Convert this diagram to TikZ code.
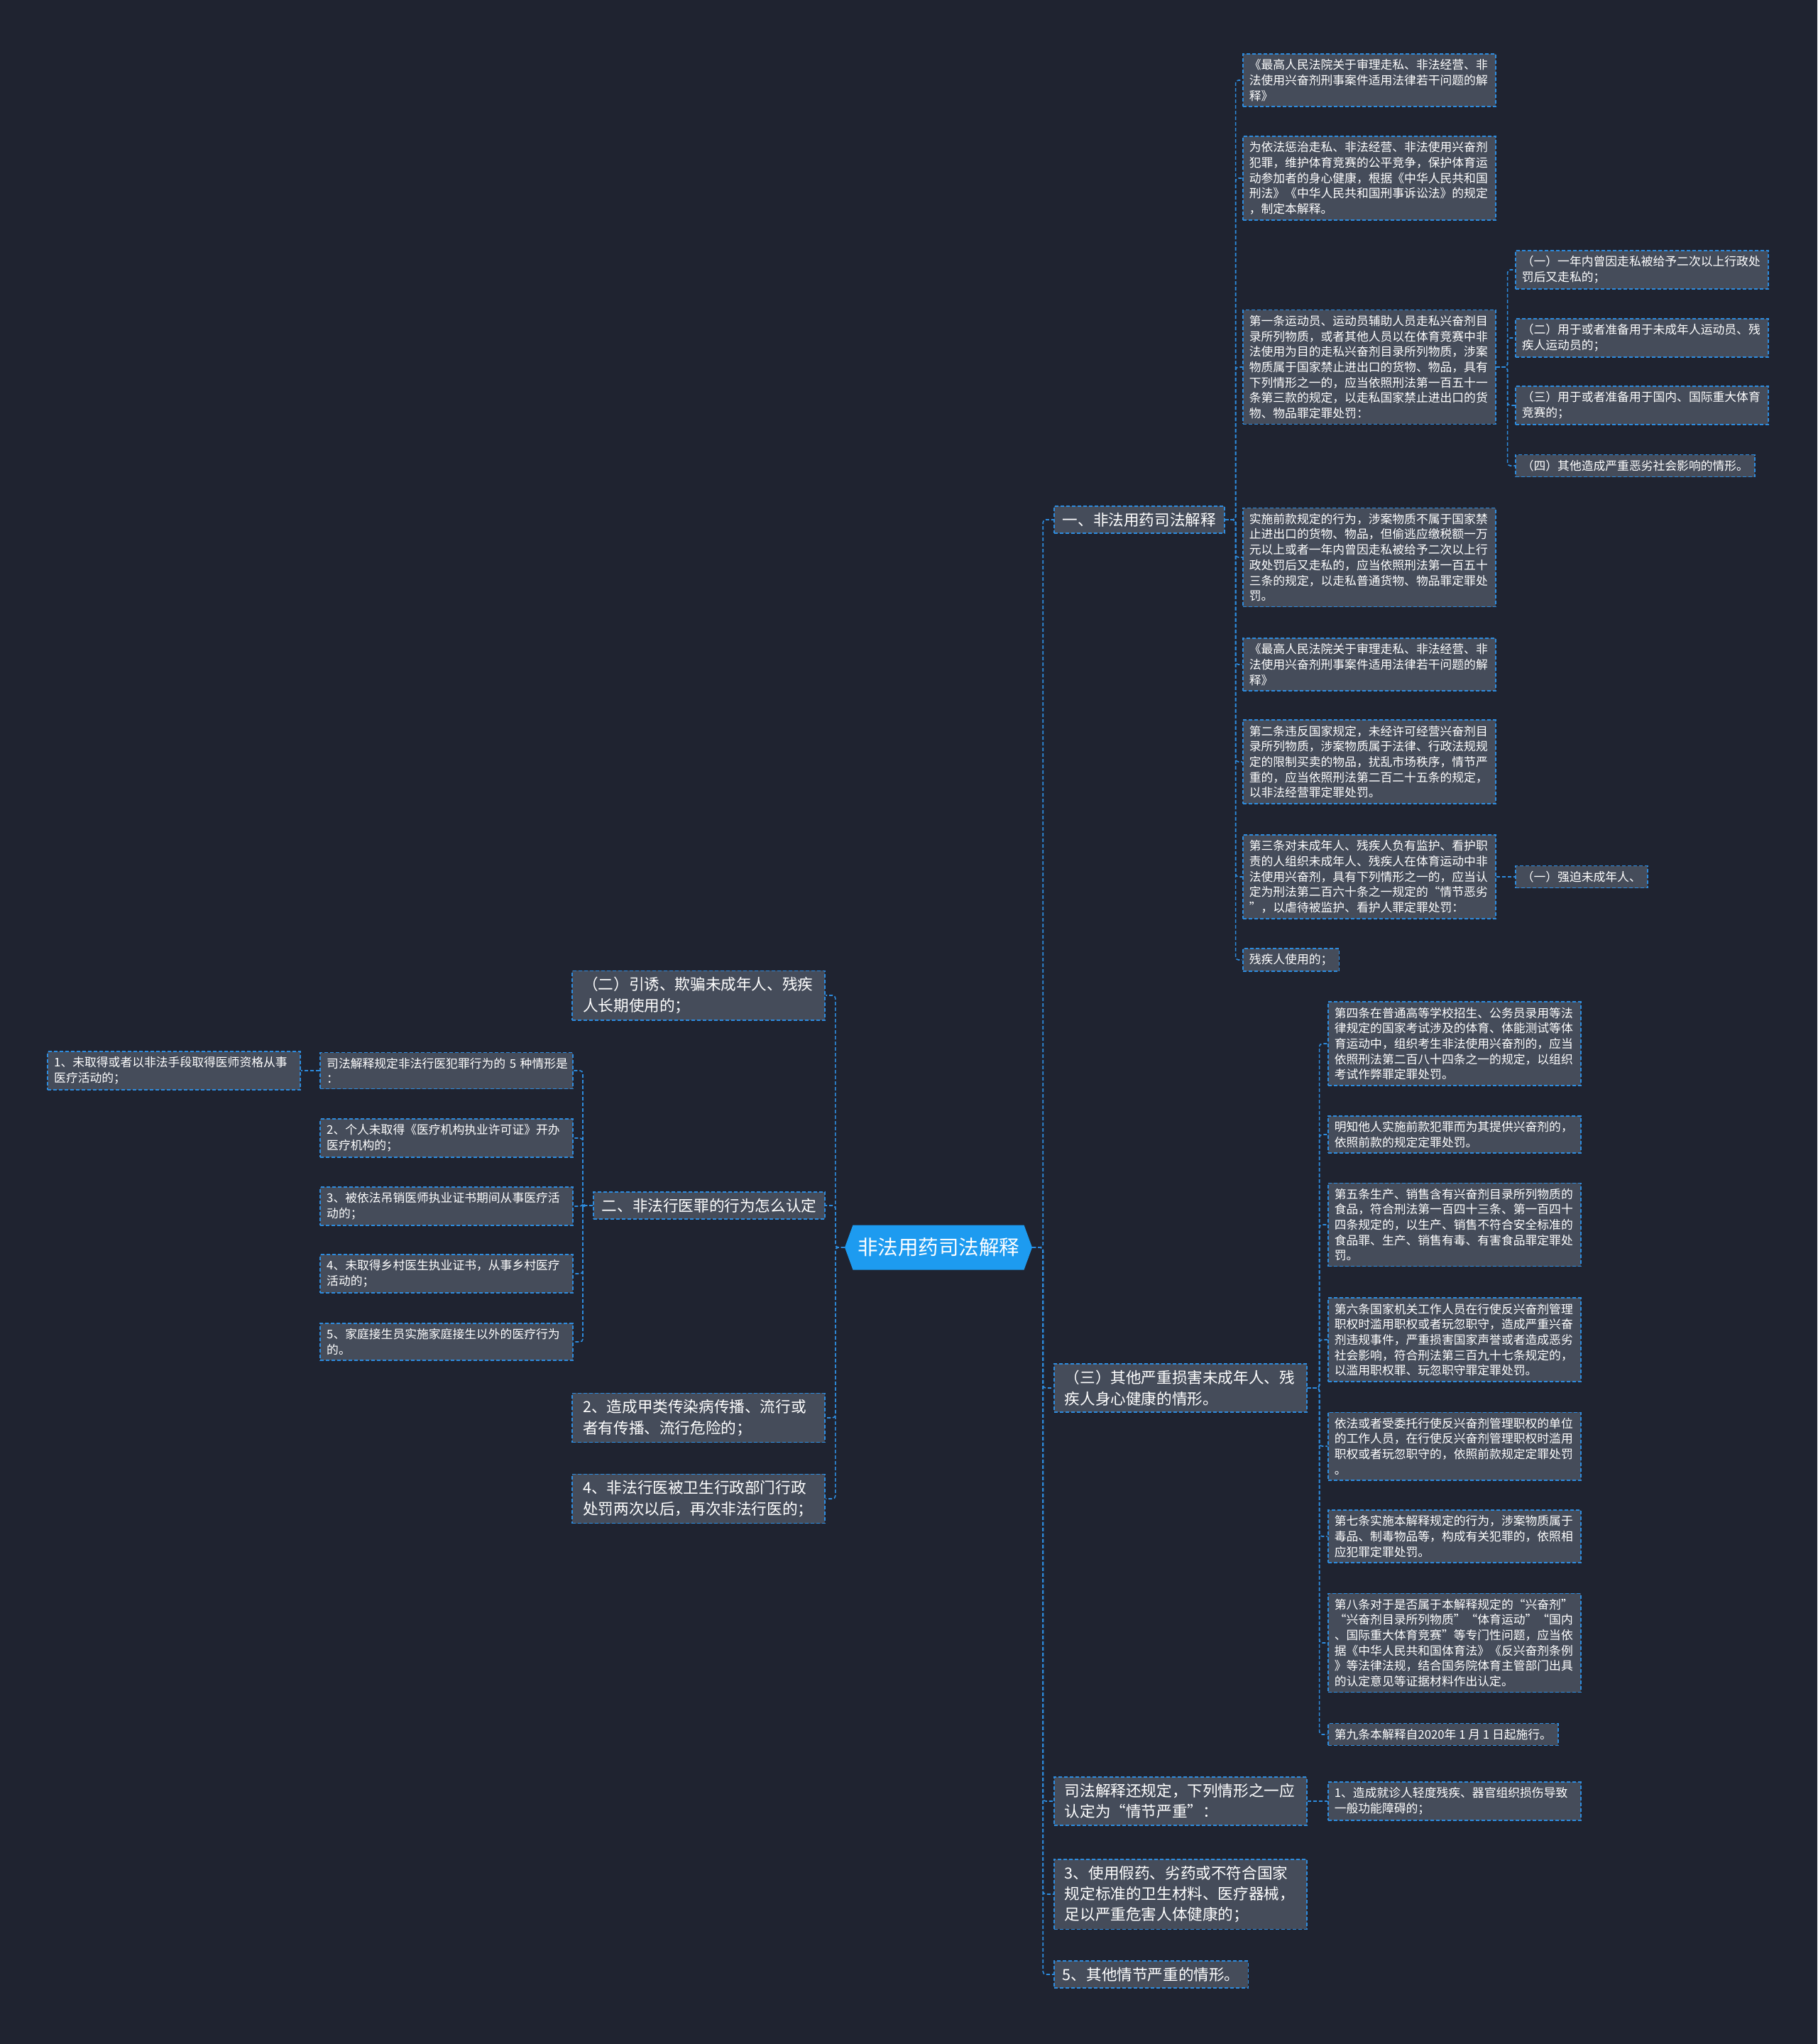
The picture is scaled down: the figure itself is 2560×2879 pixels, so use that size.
\documentclass[tikz,border=0pt]{standalone}
\usepackage{fontspec}
\usepackage{xcolor}
\usepackage{tikz}
\usetikzlibrary{shapes.symbols,positioning}

\newfontfamily\cjk{Noto Sans CJK SC}
\definecolor{bgdark}{HTML}{1F2330}
\definecolor{boxgrey}{HTML}{454C5A}
\definecolor{linkblue}{HTML}{2D8CDF}
\definecolor{rootblue}{HTML}{1D9BF0}

\begin{document}
\begin{tikzpicture}[
  x=1pt, y=-1pt,
  leafbase/.style={draw=linkblue, line width=1.6pt, dash pattern=on 5pt off 3pt, fill=boxgrey, text=white, font=\cjk\fontsize{16.8}{21.7}\selectfont, align=left, inner xsep=9pt, inner ysep=7.5pt},
  leaf/.style={leafbase, text width=338pt},
  branchbase/.style={draw=linkblue, line width=1.6pt, dash pattern=on 5pt off 3pt, fill=boxgrey, text=white, font=\cjk\fontsize{21.6}{29.4}\selectfont, align=left, inner xsep=12pt, inner ysep=9pt},
  branch/.style={branchbase, text width=326pt, inner xsep=15pt},
  rootbox/.style={signal, signal to=west and east, signal pointer angle=140, fill=rootblue, text=white, font=\cjk\fontsize{28.5}{32}\selectfont, minimum width=264pt, minimum height=63pt, inner xsep=4pt},
  link/.style={draw=linkblue, line width=1.6pt, dash pattern=on 5pt off 3pt, rounded corners=4pt},
]
  % Background and page frame
  \fill[bgdark] (0,0) rectangle (2560,2879);
  \useasboundingbox (0,0) rectangle (2560,2879);

  % Centre
  \node[rootbox] (root) at (1322,1757) {非法用药司法解释};

  % Right branches
  \node[branchbase, anchor=west] (sec1) at (1484,732) {一、非法用药司法解释};
  \node[branch, anchor=west] (sec3) at (1484,1955) {（三）其他严重损害未成年人、残\\疾人身心健康的情形。};
  \node[branch, anchor=west] (serious) at (1484,2537) {司法解释还规定，下列情形之一应\\认定为“情节严重”：};
  \node[branch, anchor=west] (fakedrug) at (1484,2668) {3、使用假药、劣药或不符合国家\\规定标准的卫生材料、医疗器械，\\足以严重危害人体健康的；};
  \node[branchbase, anchor=west] (other) at (1484,2781) {5、其他情节严重的情形。};

  % Children of sec1
  \node[leaf, anchor=west] (title1) at (1750,113) {《最高人民法院关于审理走私、非法经营、非\\法使用兴奋剂刑事案件适用法律若干问题的解\\释》};
  \node[leaf, anchor=west] (purpose) at (1750,251) {为依法惩治走私、非法经营、非法使用兴奋剂\\犯罪，维护体育竞赛的公平竞争，保护体育运\\动参加者的身心健康，根据《中华人民共和国\\刑法》《中华人民共和国刑事诉讼法》的规定\\，制定本解释。};
  \node[leaf, anchor=west] (art1) at (1750,517) {第一条运动员、运动员辅助人员走私兴奋剂目\\录所列物质，或者其他人员以在体育竞赛中非\\法使用为目的走私兴奋剂目录所列物质，涉案\\物质属于国家禁止进出口的货物、物品，具有\\下列情形之一的，应当依照刑法第一百五十一\\条第三款的规定，以走私国家禁止进出口的货\\物、物品罪定罪处罚：};
  \node[leaf, anchor=west] (art1b) at (1750,785) {实施前款规定的行为，涉案物质不属于国家禁\\止进出口的货物、物品，但偷逃应缴税额一万\\元以上或者一年内曾因走私被给予二次以上行\\政处罚后又走私的，应当依照刑法第一百五十\\三条的规定，以走私普通货物、物品罪定罪处\\罚。};
  \node[leaf, anchor=west] (title2) at (1750,936) {《最高人民法院关于审理走私、非法经营、非\\法使用兴奋剂刑事案件适用法律若干问题的解\\释》};
  \node[leaf, anchor=west] (art2) at (1750,1073) {第二条违反国家规定，未经许可经营兴奋剂目\\录所列物质，涉案物质属于法律、行政法规规\\定的限制买卖的物品，扰乱市场秩序，情节严\\重的，应当依照刑法第二百二十五条的规定，\\以非法经营罪定罪处罚。};
  \node[leaf, anchor=west] (art3) at (1750,1235) {第三条对未成年人、残疾人负有监护、看护职\\责的人组织未成年人、残疾人在体育运动中非\\法使用兴奋剂，具有下列情形之一的，应当认\\定为刑法第二百六十条之一规定的“情节恶劣\\”，以虐待被监护、看护人罪定罪处罚：};
  \node[leafbase, anchor=west] (disabled) at (1750,1352) {残疾人使用的；};

  % Cases of art1 and art3
  \node[leaf, anchor=west] (case1) at (2134,380) {（一）一年内曾因走私被给予二次以上行政处\\罚后又走私的；};
  \node[leaf, anchor=west] (case2) at (2134,476) {（二）用于或者准备用于未成年人运动员、残\\疾人运动员的；};
  \node[leaf, anchor=west] (case3) at (2134,571) {（三）用于或者准备用于国内、国际重大体育\\竞赛的；};
  \node[leafbase, anchor=west] (case4) at (2134,656) {（四）其他造成严重恶劣社会影响的情形。};
  \node[leafbase, anchor=west] (force) at (2134,1235) {（一）强迫未成年人、};

  % Children of sec3
  \node[leaf, anchor=west] (art4) at (1870,1470) {第四条在普通高等学校招生、公务员录用等法\\律规定的国家考试涉及的体育、体能测试等体\\育运动中，组织考生非法使用兴奋剂的，应当\\依照刑法第二百八十四条之一的规定，以组织\\考试作弊罪定罪处罚。};
  \node[leaf, anchor=west] (art4b) at (1870,1598) {明知他人实施前款犯罪而为其提供兴奋剂的，\\依照前款的规定定罪处罚。};
  \node[leaf, anchor=west] (art5) at (1870,1725) {第五条生产、销售含有兴奋剂目录所列物质的\\食品，符合刑法第一百四十三条、第一百四十\\四条规定的，以生产、销售不符合安全标准的\\食品罪、生产、销售有毒、有害食品罪定罪处\\罚。};
  \node[leaf, anchor=west] (art6) at (1870,1887) {第六条国家机关工作人员在行使反兴奋剂管理\\职权时滥用职权或者玩忽职守，造成严重兴奋\\剂违规事件，严重损害国家声誉或者造成恶劣\\社会影响，符合刑法第三百九十七条规定的，\\以滥用职权罪、玩忽职守罪定罪处罚。};
  \node[leaf, anchor=west] (art6b) at (1870,2037) {依法或者受委托行使反兴奋剂管理职权的单位\\的工作人员，在行使反兴奋剂管理职权时滥用\\职权或者玩忽职守的，依照前款规定定罪处罚\\。};
  \node[leaf, anchor=west] (art7) at (1870,2164) {第七条实施本解释规定的行为，涉案物质属于\\毒品、制毒物品等，构成有关犯罪的，依照相\\应犯罪定罪处罚。};
  \node[leaf, anchor=west] (art8) at (1870,2314) {第八条对于是否属于本解释规定的“兴奋剂”\\“兴奋剂目录所列物质”“体育运动”“国内\\、国际重大体育竞赛”等专门性问题，应当依\\据《中华人民共和国体育法》《反兴奋剂条例\\》等法律法规，结合国务院体育主管部门出具\\的认定意见等证据材料作出认定。};
  \node[leafbase, anchor=west] (art9) at (1870,2443) {第九条本解释自2020年 1 月 1 日起施行。};
  \node[leaf, anchor=west] (injury) at (1870,2537) {1、造成就诊人轻度残疾、器官组织损伤导致\\一般功能障碍的；};

  % Left branches
  \node[branch, anchor=east] (lure) at (1163,1402) {（二）引诱、欺骗未成年人、残疾\\人长期使用的；};
  \node[branchbase, anchor=east] (illegal) at (1163,1698) {二、非法行医罪的行为怎么认定};
  \node[branch, anchor=east] (epidemic) at (1163,1997) {2、造成甲类传染病传播、流行或\\者有传播、流行危险的；};
  \node[branch, anchor=east] (repeat) at (1163,2111) {4、非法行医被卫生行政部门行政\\处罚两次以后，再次非法行医的；};

  % Children of illegal
  \node[leaf, anchor=east] (five) at (808,1508) {司法解释规定非法行医犯罪行为的~5~种情形是\\：};
  \node[leaf, anchor=east] (nolicence) at (808,1603) {2、个人未取得《医疗机构执业许可证》开办\\医疗机构的；};
  \node[leaf, anchor=east] (revoked) at (808,1699) {3、被依法吊销医师执业证书期间从事医疗活\\动的；};
  \node[leaf, anchor=east] (village) at (808,1794) {4、未取得乡村医生执业证书，从事乡村医疗\\活动的；};
  \node[leaf, anchor=east] (midwife) at (808,1890) {5、家庭接生员实施家庭接生以外的医疗行为\\的。};
  \node[leaf, anchor=east] (noqual) at (424,1508) {1、未取得或者以非法手段取得医师资格从事\\医疗活动的；};

  % Connectors: centre
  \draw[link] (root.east) -- ++(15,0) |- (sec1.west);
  \draw[link] (root.east) -- ++(15,0) |- (sec3.west);
  \draw[link] (root.east) -- ++(15,0) |- (serious.west);
  \draw[link] (root.east) -- ++(15,0) |- (fakedrug.west);
  \draw[link] (root.east) -- ++(15,0) |- (other.west);
  \draw[link] (root.west) -- ++(-13,0) |- (lure.east);
  \draw[link] (root.west) -- ++(-13,0) |- (illegal.east);
  \draw[link] (root.west) -- ++(-13,0) |- (epidemic.east);
  \draw[link] (root.west) -- ++(-13,0) |- (repeat.east);

  % Connectors: sec1
  \draw[link] (sec1.east) -- ++(15,0) |- (title1.west);
  \draw[link] (sec1.east) -- ++(15,0) |- (purpose.west);
  \draw[link] (sec1.east) -- ++(15,0) |- (art1.west);
  \draw[link] (sec1.east) -- ++(15,0) |- (art1b.west);
  \draw[link] (sec1.east) -- ++(15,0) |- (title2.west);
  \draw[link] (sec1.east) -- ++(15,0) |- (art2.west);
  \draw[link] (sec1.east) -- ++(15,0) |- (art3.west);
  \draw[link] (sec1.east) -- ++(15,0) |- (disabled.west);
  \draw[link] (art1.east) -- ++(16,0) |- (case1.west);
  \draw[link] (art1.east) -- ++(16,0) |- (case2.west);
  \draw[link] (art1.east) -- ++(16,0) |- (case3.west);
  \draw[link] (art1.east) -- ++(16,0) |- (case4.west);
  \draw[link] (art3.east) -- (force.west);

  % Connectors: sec3 and serious
  \draw[link] (sec3.east) -- ++(17,0) |- (art4.west);
  \draw[link] (sec3.east) -- ++(17,0) |- (art4b.west);
  \draw[link] (sec3.east) -- ++(17,0) |- (art5.west);
  \draw[link] (sec3.east) -- ++(17,0) |- (art6.west);
  \draw[link] (sec3.east) -- ++(17,0) |- (art6b.west);
  \draw[link] (sec3.east) -- ++(17,0) |- (art7.west);
  \draw[link] (sec3.east) -- ++(17,0) |- (art8.west);
  \draw[link] (sec3.east) -- ++(17,0) |- (art9.west);
  \draw[link] (serious.east) -- (injury.west);

  % Connectors: illegal
  \draw[link] (illegal.west) -- ++(-14,0) |- (five.east);
  \draw[link] (illegal.west) -- ++(-14,0) |- (nolicence.east);
  \draw[link] (illegal.west) -- ++(-14,0) |- (revoked.east);
  \draw[link] (illegal.west) -- ++(-14,0) |- (village.east);
  \draw[link] (illegal.west) -- ++(-14,0) |- (midwife.east);
  \draw[link] (five.west) -- (noqual.east);
\end{tikzpicture}
\end{document}
